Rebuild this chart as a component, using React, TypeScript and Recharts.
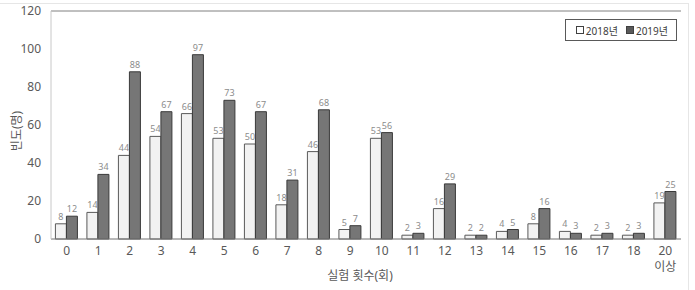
import { Bar, BarChart, CartesianGrid, LabelList, Legend, ReferenceLine, XAxis, YAxis } from "recharts";

const categories = ["0", "1", "2", "3", "4", "5", "6", "7", "8", "9", "10", "11", "12", "13", "14", "15", "16", "17", "18", "20 이상"];
const y2018 = [8, 14, 44, 54, 66, 53, 50, 18, 46, 5, 53, 2, 16, 2, 4, 8, 4, 2, 2, 19];
const y2019 = [12, 34, 88, 67, 97, 73, 67, 31, 68, 7, 56, 3, 29, 2, 5, 16, 3, 3, 3, 25];
const yTicks = [0, 20, 40, 60, 80, 100, 120];

const data = categories.map((c, i) => ({ name: c, a: y2018[i], b: y2019[i] }));

const FONT = "'Noto Sans', 'Noto Sans CJK KR', sans-serif";
const TEXT = "#595959";

function XTick(props: any) {
  const { x, y, payload } = props;
  const lines = String(payload.value).split(" ");
  return (
    <g>
      {lines.map((l: string, i: number) => (
        <text key={i} x={x} y={y + 8 + i * 16} textAnchor="middle" fontSize={12} fill={TEXT} fontFamily={FONT}>
          {l}
        </text>
      ))}
    </g>
  );
}

function LegendBox() {
  const item = (fill: string, stroke: string, label: string) => (
    <span style={{ display: "inline-flex", alignItems: "center", marginLeft: 8 }}>
      <span style={{ width: 6, height: 6, background: fill, border: `1px solid ${stroke}`, marginRight: 2 }} />
      <span>{label}</span>
    </span>
  );
  return (
    <div
      style={{
        boxSizing: "border-box",
        width: 112,
        height: 22,
        border: "1px solid #595959",
        background: "#fff",
        display: "flex",
        alignItems: "center",
        justifyContent: "flex-end",
        paddingRight: 8,
        fontSize: 10,
        color: "#404040",
        fontFamily: FONT,
      }}
    >
      {item("#fff", "#404040", "2018년")}
      {item("#595959", "#404040", "2019년")}
    </div>
  );
}

export default function App() {
  return (
    <div style={{ position: "absolute", left: 0, top: 0, width: 695, height: 290, background: "#fff", overflow: "hidden" }}>
      <div style={{ position: "absolute", left: -10, top: 3, width: 698, height: 400, borderTop: "1px solid #e6e6e6", borderRight: "1px solid #e6e6e6" }} />
      <BarChart
        width={695}
        height={290}
        data={data}
        margin={{ top: 11, right: 14, bottom: 1, left: 0 }}
        barCategoryGap="14%"
        barGap={0}
        style={{ position: "absolute", left: 0, top: 0 }}
      >
        <CartesianGrid vertical={false} stroke="#e6e6e6" />
        <XAxis
          dataKey="name"
          height={50}
          interval={0}
          tickLine={false}
          axisLine={{ stroke: "#7f7f7f" }}
          tick={<XTick />}
        />
        <YAxis
          yAxisId="l"
          width={51}
          domain={[0, 120]}
          ticks={yTicks}
          tickLine={false}
          tickMargin={4}
          axisLine={{ stroke: "#c8c8c8" }}
          tick={{ fontSize: 12, fill: TEXT, fontFamily: FONT }}
        />
        <YAxis yAxisId="r" orientation="right" width={0} domain={[0, 120]} tick={false} tickLine={false} axisLine={{ stroke: "#8c8c8c" }} />
        <ReferenceLine yAxisId="l" y={120} stroke="#8c8c8c" />
        <Legend
          layout="horizontal"
          verticalAlign="middle"
          align="center"
          content={() => <LegendBox />}
          wrapperStyle={{ top: 19, left: 565, width: 112, height: 22 }}
        />
        <Bar yAxisId="l" dataKey="a" name="2018년" fill="#f2f2f2" stroke="#595959" strokeWidth={1} isAnimationActive={false}>
          <LabelList dataKey="a" position="top" offset={4} fontSize={9} fill="#8c8c8c" fontFamily={FONT} />
        </Bar>
        <Bar yAxisId="l" dataKey="b" name="2019년" fill="#767676" stroke="#3a3a3a" strokeWidth={1} isAnimationActive={false}>
          <LabelList dataKey="b" position="top" offset={4} fontSize={9} fill="#8c8c8c" fontFamily={FONT} />
        </Bar>
      </BarChart>
      <div
        style={{
          position: "absolute",
          left: 16,
          top: 131,
          transform: "translate(-50%, -50%) rotate(-90deg)",
          fontSize: 12,
          color: TEXT,
          fontFamily: FONT,
          whiteSpace: "nowrap",
        }}
      >
        빈도(명)
      </div>
      <div
        style={{
          position: "absolute",
          left: 360,
          top: 275,
          transform: "translate(-50%, -50%)",
          fontSize: 12,
          color: TEXT,
          fontFamily: FONT,
          whiteSpace: "nowrap",
        }}
      >
        실험 횟수(회)
      </div>
    </div>
  );
}
